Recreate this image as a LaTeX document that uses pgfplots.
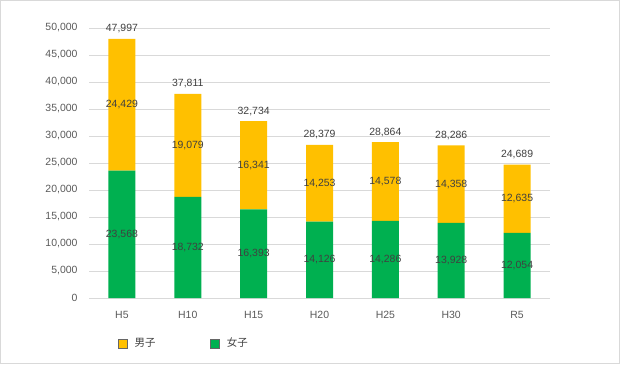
\documentclass[border=0pt]{standalone}
\usepackage{pgfplots}
\pgfplotsset{compat=1.18}
\usepackage{pgfplotstable}
\usepackage{fontspec}
\setmainfont{Liberation Sans}
\newfontfamily\jp{Noto Sans CJK JP}
\definecolor{ylw}{HTML}{FFC000}
\definecolor{grn}{HTML}{00B050}
\definecolor{grd}{HTML}{D9D9D9}
\definecolor{txt}{HTML}{595959}
\definecolor{lbl}{HTML}{404040}
\pgfplotstableread{
x f m t
0 23568 24429 47997
1 18732 19079 37811
2 16393 16341 32734
3 14126 14253 28379
4 14286 14578 28864
5 13928 14358 28286
6 12054 12635 24689
}\data
\pgfplotsset{
  common/.style={
    at={(89bp,66bp)}, anchor=south west,
    width=461bp, height=270bp, scale only axis,
    xmin=-0.5, xmax=6.5, ymin=0, ymax=50000,
    /pgf/number format/.cd, 1000 sep={,}, assume math mode=true,
    /pgfplots/.cd,
  }
}
\begin{document}
\begin{tikzpicture}[x=1bp,y=1bp]
\draw[grd, line width=1bp] (0.5,0.5) rectangle (619.5,363.5);
\useasboundingbox (0,0) rectangle (620,364);
\begin{axis}[
  common,
  ybar stacked, bar width=27bp,
  xtick={0,...,6}, xticklabels={H5,H10,H15,H20,H25,H30,R5},
  ytick={0,5000,...,50000},
  scaled y ticks=false,
  ymajorgrids, grid style={grd, line width=0.75bp},
  axis line style={draw=none},
  major tick length=0pt,
  tick label style={font=\fontsize{10.5}{12}\selectfont, text=txt},
  yticklabel style={xshift=-8bp},
  xticklabel style={yshift=-10bp},
  nodes near coords={\pgfmathprintnumber[1000 sep={,}, assume math mode=true]{\pgfplotspointmeta}},
  nodes near coords style={font=\fontsize{10.5}{12}\selectfont, text=lbl},
  point meta=explicit,
  legend style={at={(rel axis cs:0.055,0)}, anchor=north west, yshift=-36bp,
    draw=none, fill=none, font=\jp\fontsize{10.5}{12}\selectfont, text=lbl,
    /tikz/every even column/.append style={column sep=52bp}},
  legend columns=2,
  legend image code/.code={\draw[#1, draw=black!60, line width=0.4bp] (0bp,-4.5bp) rectangle (9bp,4.5bp); \path[draw=none, fill=none] (0bp,-1bp) rectangle (15bp,1bp);},
]
\addplot[fill=grn, draw=none, forget plot] table[x=x, y=f, meta=f] {\data};
\addplot[fill=ylw, draw=none, forget plot] table[x=x, y=m, meta=m] {\data};
\addlegendimage{fill=ylw}
\addlegendentry{男子}
\addlegendimage{fill=grn}
\addlegendentry{女子}
\end{axis}
\begin{axis}[
  common,
  hide axis,
  nodes near coords={\pgfmathprintnumber[1000 sep={,}, assume math mode=true]{\pgfplotspointmeta}},
  nodes near coords style={font=\fontsize{10.5}{12}\selectfont, text=lbl, anchor=south, yshift=2bp},
  point meta=explicit,
]
\addplot[only marks, mark=none] table[x=x, y=t, meta=t] {\data};
\end{axis}
\end{tikzpicture}
\end{document}
